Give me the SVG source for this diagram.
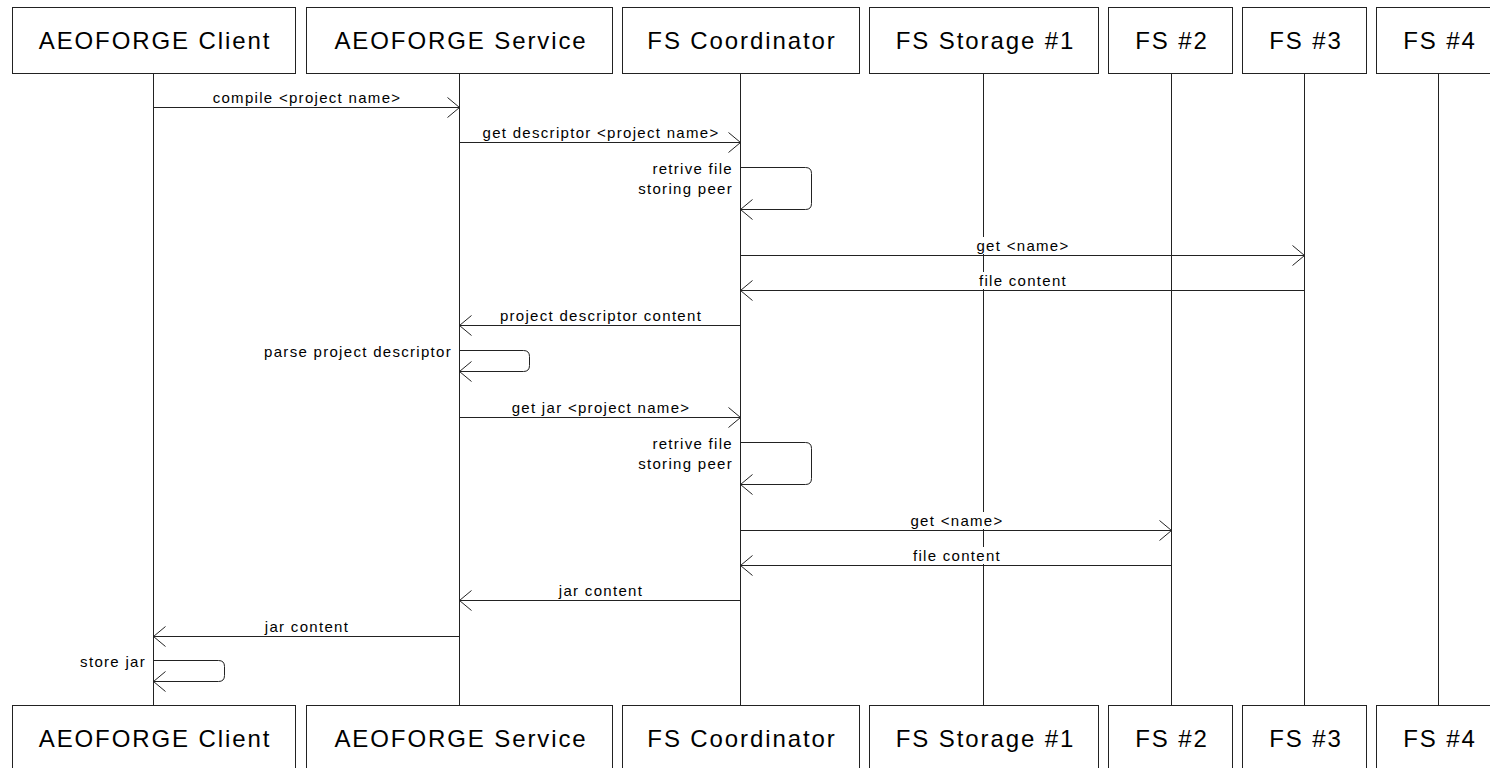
<svg xmlns="http://www.w3.org/2000/svg" width="1490" height="768" viewBox="0 0 1490 768">
<style>
.box{fill:#fff;stroke:#222;stroke-width:1}
.life{stroke:#222;stroke-width:1;fill:none}
.title{font-family:"Liberation Sans",Arial,sans-serif;font-size:24px;letter-spacing:1.9px;fill:#000;text-anchor:middle}
.lbl{font-family:"Liberation Sans",Arial,sans-serif;font-size:15px;letter-spacing:1.3px;fill:#000;text-anchor:middle}
.lblr{font-family:"Liberation Sans",Arial,sans-serif;font-size:15px;letter-spacing:1.3px;fill:#000;text-anchor:end}
.msg{stroke:#222;stroke-width:1;fill:none;marker-end:url(#open)}
.bg{fill:#fff;stroke:none}
</style>
<defs>
<marker id="open" markerUnits="userSpaceOnUse" viewBox="-14 -12 16 24" markerWidth="16" markerHeight="24" refX="0" refY="0" orient="auto">
<path d="M -12 -10 L 0 0 L -12 10" fill="none" stroke="#222" stroke-width="1"/>
</marker>
</defs>
<rect width="1490" height="768" fill="#fff"/>
<g id="client">
<line class="life" x1="153.5" y1="73.5" x2="153.5" y2="705.5"/>
<rect class="box" x="12.5" y="7.5" width="283" height="66"/>
<text class="title" x="155" y="49">AEOFORGE Client</text>
<rect class="box" x="12.5" y="705.5" width="283" height="66"/>
<text class="title" x="155" y="747">AEOFORGE Client</text>
</g>
<g id="service">
<line class="life" x1="459.5" y1="73.5" x2="459.5" y2="705.5"/>
<rect class="box" x="306.5" y="7.5" width="306" height="66"/>
<text class="title" x="461" y="49">AEOFORGE Service</text>
<rect class="box" x="306.5" y="705.5" width="306" height="66"/>
<text class="title" x="461" y="747">AEOFORGE Service</text>
</g>
<g id="coordinator">
<line class="life" x1="740.5" y1="73.5" x2="740.5" y2="705.5"/>
<rect class="box" x="622.5" y="7.5" width="237" height="66"/>
<text class="title" x="742" y="49">FS Coordinator</text>
<rect class="box" x="622.5" y="705.5" width="237" height="66"/>
<text class="title" x="742" y="747">FS Coordinator</text>
</g>
<g id="storage1">
<line class="life" x1="983.5" y1="73.5" x2="983.5" y2="705.5"/>
<rect class="box" x="869.5" y="7.5" width="229" height="66"/>
<text class="title" x="985.5" y="49">FS Storage #1</text>
<rect class="box" x="869.5" y="705.5" width="229" height="66"/>
<text class="title" x="985.5" y="747">FS Storage #1</text>
</g>
<g id="fs2">
<line class="life" x1="1171.5" y1="73.5" x2="1171.5" y2="705.5"/>
<rect class="box" x="1108.5" y="7.5" width="124" height="66"/>
<text class="title" x="1172" y="49">FS #2</text>
<rect class="box" x="1108.5" y="705.5" width="124" height="66"/>
<text class="title" x="1172" y="747">FS #2</text>
</g>
<g id="fs3">
<line class="life" x1="1304.5" y1="73.5" x2="1304.5" y2="705.5"/>
<rect class="box" x="1242.5" y="7.5" width="124" height="66"/>
<text class="title" x="1306" y="49">FS #3</text>
<rect class="box" x="1242.5" y="705.5" width="124" height="66"/>
<text class="title" x="1306" y="747">FS #3</text>
</g>
<g id="fs4">
<line class="life" x1="1438.5" y1="73.5" x2="1438.5" y2="705.5"/>
<rect class="box" x="1376.5" y="7.5" width="124" height="66"/>
<text class="title" x="1440" y="49">FS #4</text>
<rect class="box" x="1376.5" y="705.5" width="124" height="66"/>
<text class="title" x="1440" y="747">FS #4</text>
</g>
<g id="connectors">
<text class="lbl" x="307" y="103">compile &lt;project name&gt;</text>
<line class="msg" x1="153.5" y1="107.5" x2="459.5" y2="107.5"/>
<text class="lbl" x="601" y="138">get descriptor &lt;project name&gt;</text>
<line class="msg" x1="459.5" y1="142.5" x2="740.5" y2="142.5"/>
<text class="lblr" x="733" y="174">retrive file</text>
<text class="lblr" x="733" y="194">storing peer</text>
<path class="msg" d="M740.5 167.5 H805.5 Q811.5 167.5 811.5 173.5 V203.5 Q811.5 209.5 805.5 209.5 H740.5"/>
<rect class="bg" x="973" y="237" width="98" height="17"/>
<text class="lbl" x="1023" y="251">get &lt;name&gt;</text>
<line class="msg" x1="740.5" y1="255.5" x2="1304.5" y2="255.5"/>
<rect class="bg" x="974" y="272" width="96" height="17"/>
<text class="lbl" x="1023" y="286">file content</text>
<line class="msg" x1="1304.5" y1="290.5" x2="740.5" y2="290.5"/>
<text class="lbl" x="601" y="321">project descriptor content</text>
<line class="msg" x1="740.5" y1="325.5" x2="459.5" y2="325.5"/>
<text class="lblr" x="452" y="357">parse project descriptor</text>
<path class="msg" d="M459.5 350.5 H523.5 Q529.5 350.5 529.5 356.5 V365.5 Q529.5 371.5 523.5 371.5 H459.5"/>
<text class="lbl" x="601" y="413">get jar &lt;project name&gt;</text>
<line class="msg" x1="459.5" y1="417.5" x2="740.5" y2="417.5"/>
<text class="lblr" x="733" y="449">retrive file</text>
<text class="lblr" x="733" y="469">storing peer</text>
<path class="msg" d="M740.5 442.5 H805.5 Q811.5 442.5 811.5 448.5 V478.5 Q811.5 484.5 805.5 484.5 H740.5"/>
<rect class="bg" x="907" y="512" width="98" height="17"/>
<text class="lbl" x="957" y="526">get &lt;name&gt;</text>
<line class="msg" x1="740.5" y1="530.5" x2="1171.5" y2="530.5"/>
<rect class="bg" x="908" y="547" width="96" height="17"/>
<text class="lbl" x="957" y="561">file content</text>
<line class="msg" x1="1171.5" y1="565.5" x2="740.5" y2="565.5"/>
<text class="lbl" x="601" y="596">jar content</text>
<line class="msg" x1="740.5" y1="600.5" x2="459.5" y2="600.5"/>
<text class="lbl" x="307" y="632">jar content</text>
<line class="msg" x1="459.5" y1="636.5" x2="153.5" y2="636.5"/>
<text class="lblr" x="146" y="667">store jar</text>
<path class="msg" d="M153.5 660.5 H218.5 Q224.5 660.5 224.5 666.5 V675.5 Q224.5 681.5 218.5 681.5 H153.5"/>
</g>
</svg>
